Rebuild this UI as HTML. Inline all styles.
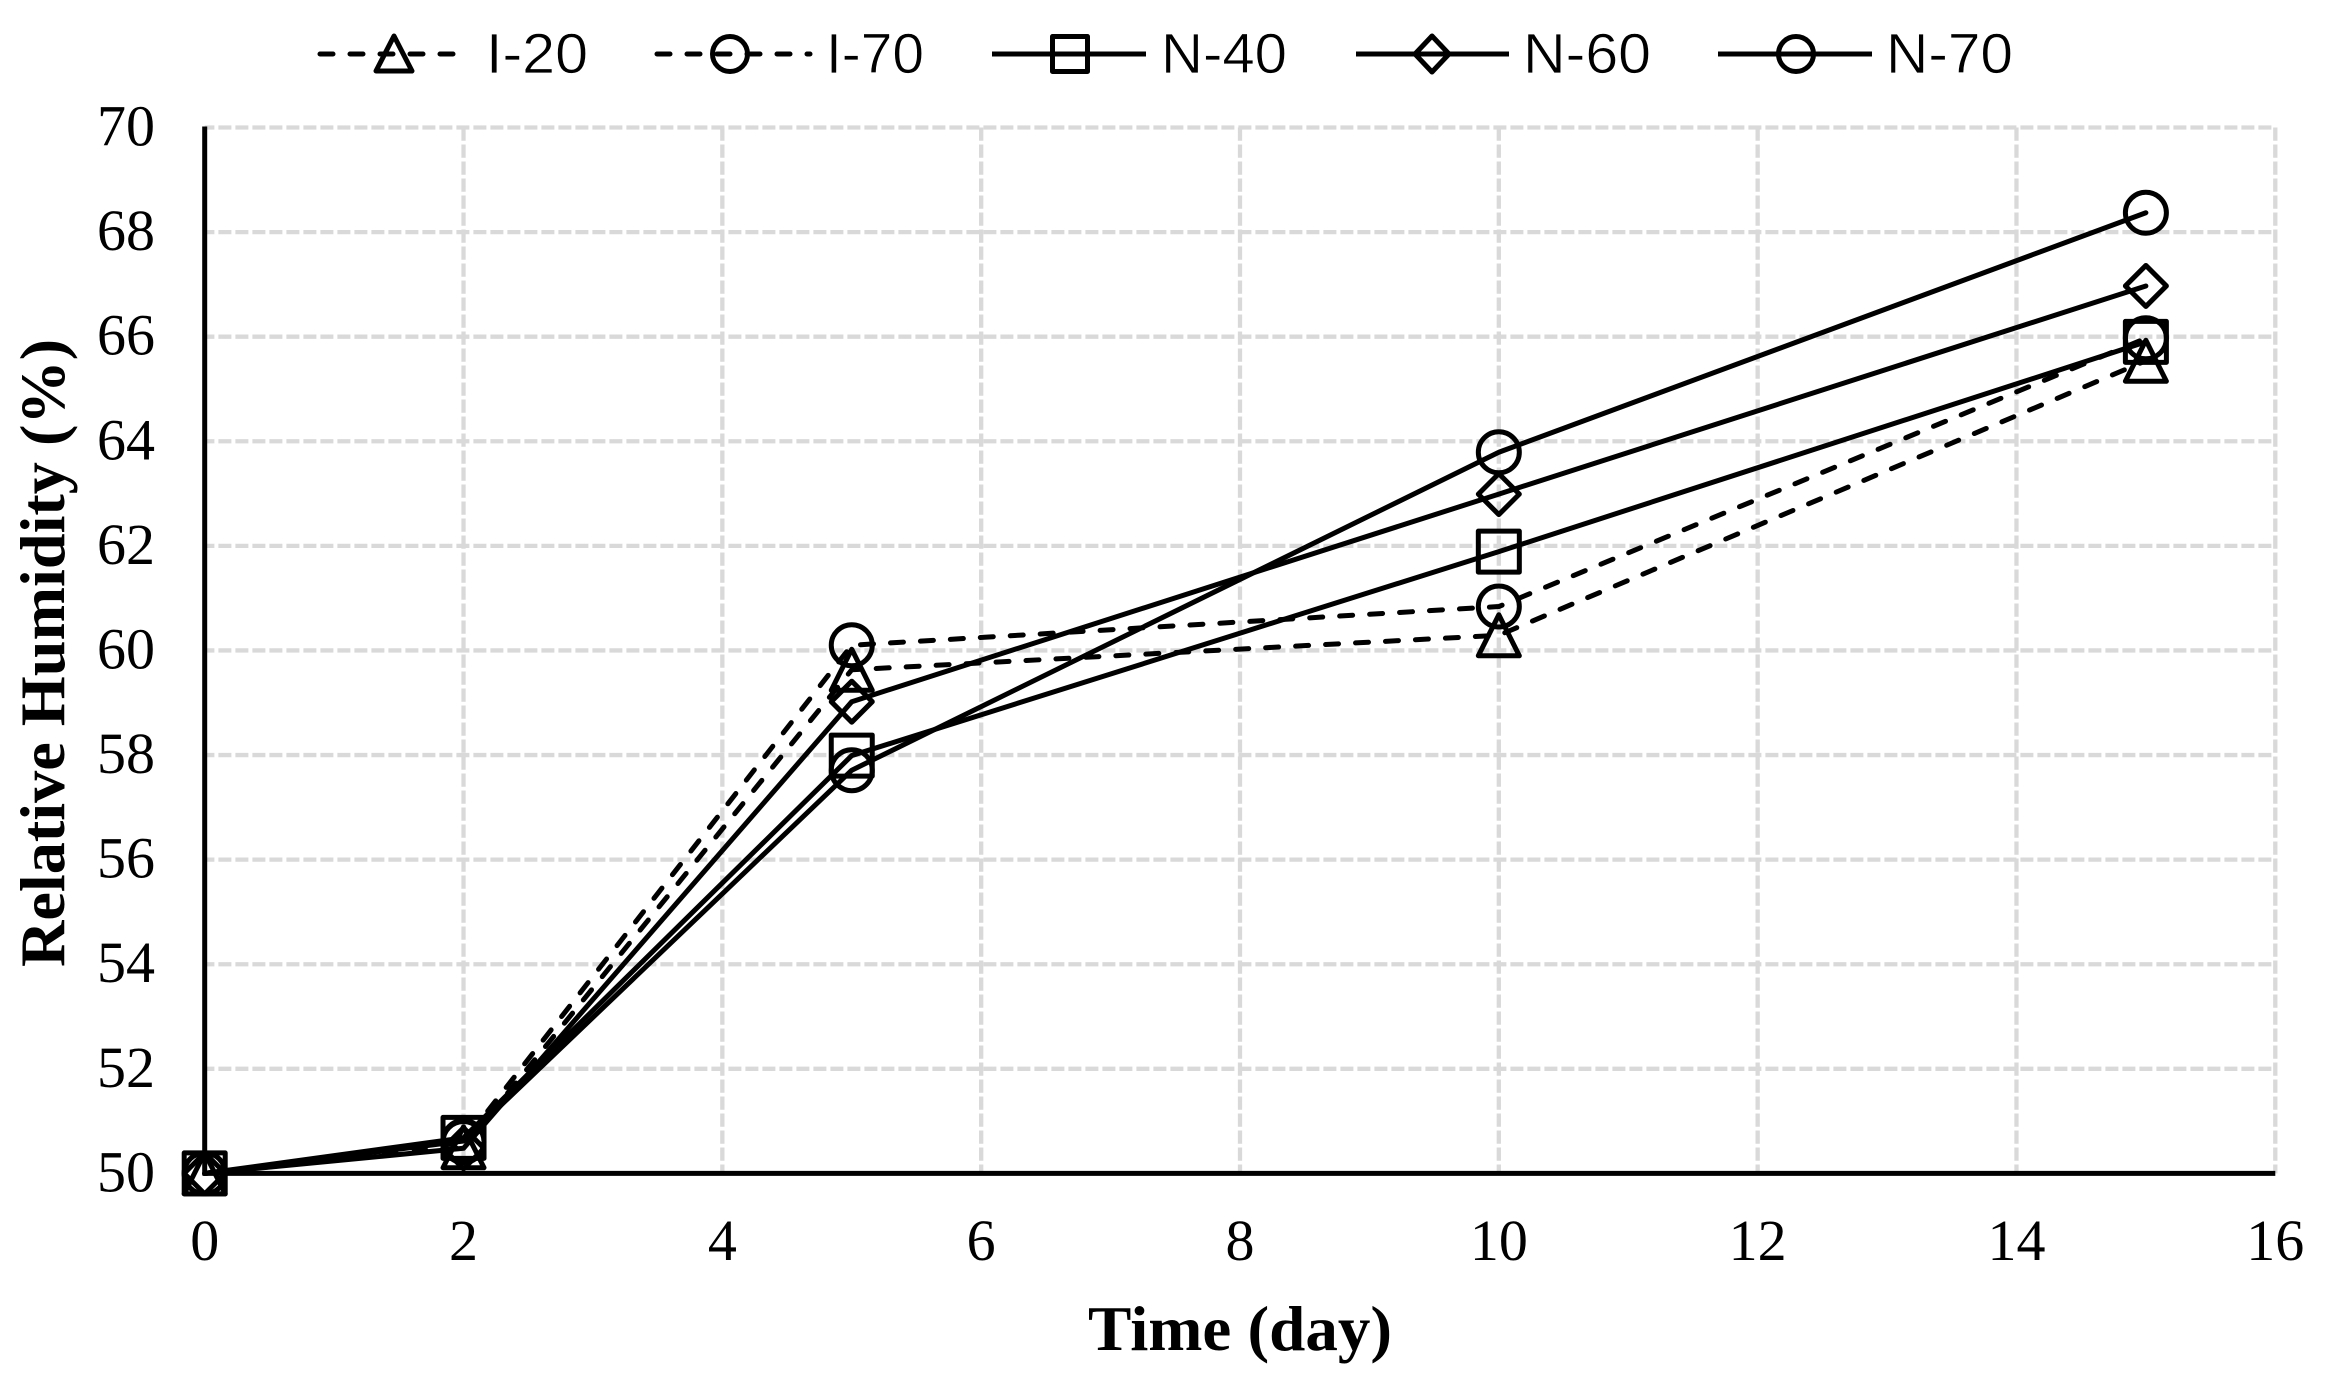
<!DOCTYPE html>
<html lang="en">
<head>
<meta charset="utf-8">
<title>Relative Humidity over Time</title>
<style>
html,body{margin:0;padding:0;background:#fff;}
svg{display:block;}
.tick{font-family:"Liberation Serif",serif;font-size:58px;fill:#000;}
.title{font-family:"Liberation Serif",serif;font-size:64px;font-weight:bold;fill:#000;}
.leg{font-family:"Liberation Sans",sans-serif;font-size:57px;fill:#000;stroke:#fff;stroke-width:0.7px;}
.lg{stroke:#000;stroke-width:5;fill:none;}
.dash{stroke-dasharray:13 17;stroke-linecap:round;}
.mk{stroke:#000;stroke-width:5;fill:none;stroke-linejoin:round;}
</style>
</head>
<body>
<svg id="chart" xmlns="http://www.w3.org/2000/svg" width="2329" height="1391" viewBox="0 0 2329 1391">
  <rect x="0" y="0" width="2329" height="1391" fill="#fff"/>
  <g id="grid"></g>
  <g id="axes"></g>
  <g id="series"></g>

  <g>
    <g>
      <line class="lg dash" x1="320" y1="54" x2="470" y2="54"/>
      <path class="mk" d="M394 36 L412 71 L376 71 Z"/>
      <text class="leg" x="486" y="73" textLength="102" lengthAdjust="spacingAndGlyphs">I-20</text>
    </g>
    <g>
      <line class="lg dash" x1="657" y1="54" x2="810" y2="54"/>
      <circle class="mk" cx="730" cy="54" r="17.5"/>
      <text class="leg" x="826" y="73" textLength="98" lengthAdjust="spacingAndGlyphs">I-70</text>
    </g>
    <g>
      <line class="lg" x1="992" y1="54" x2="1146" y2="54"/>
      <rect class="mk" x="1052.5" y="36.5" width="35" height="35"/>
      <text class="leg" x="1161" y="73" textLength="126" lengthAdjust="spacingAndGlyphs">N-40</text>
    </g>
    <g>
      <line class="lg" x1="1356" y1="54" x2="1509" y2="54"/>
      <path class="mk" d="M1432 36 L1449 54 L1432 72 L1415 54 Z"/>
      <text class="leg" x="1523" y="73" textLength="128" lengthAdjust="spacingAndGlyphs">N-60</text>
    </g>
    <g>
      <line class="lg" x1="1718" y1="54" x2="1872" y2="54"/>
      <circle class="mk" cx="1796" cy="54" r="17.5"/>
      <text class="leg" x="1886" y="73" textLength="127" lengthAdjust="spacingAndGlyphs">N-70</text>
    </g>
  </g>

  <text class="title" x="1240" y="1350" text-anchor="middle" textLength="304" lengthAdjust="spacingAndGlyphs">Time (day)</text>
  <text class="title" transform="translate(64 653) rotate(-90)" text-anchor="middle" textLength="628" lengthAdjust="spacingAndGlyphs">Relative Humidity (%)</text>
</svg>

<script>
var days = [0, 2, 5, 10, 15];
var i20Values = [50.0, 50.5, 59.63, 60.29, 65.54];
var i70Values = [50.0, 50.6, 60.10, 60.84, 65.97];
var n40Values = [50.0, 50.68, 57.99, 61.89, 65.90];
var n60Values = [50.0, 50.48, 59.02, 62.99, 66.97];
var n70Values = [50.0, 50.62, 57.71, 63.79, 68.37];
var xTickLabels = [0, 2, 4, 6, 8, 10, 12, 14, 16];
var yTickLabels = [50, 52, 54, 56, 58, 60, 62, 64, 66, 68, 70];

var NS = 'http://www.w3.org/2000/svg';
var plotLeft = 204.7, plotRight = 2275.3, plotTop = 127.5, plotBottom = 1173.4;
var xMin = 0, xMax = 16, yMin = 50, yMax = 70;

function xScale(v) { return plotLeft + (v - xMin) / (xMax - xMin) * (plotRight - plotLeft); }
function yScale(v) { return plotBottom - (v - yMin) / (yMax - yMin) * (plotBottom - plotTop); }

function make(tag, attrs, parent) {
  var el = document.createElementNS(NS, tag);
  for (var k in attrs) { el.setAttribute(k, attrs[k]); }
  parent.appendChild(el);
  return el;
}

var gridG = document.getElementById('grid');
var axesG = document.getElementById('axes');
var seriesG = document.getElementById('series');

yTickLabels.forEach(function (v) {
  if (v === yMin) { return; }
  var g = make('line', {x1: plotLeft, x2: plotRight, y1: yScale(v), y2: yScale(v), stroke: '#d9d9d9', 'stroke-width': 4.3, 'stroke-dasharray': '13 4', 'stroke-dashoffset': 3.3}, gridG);
  
  
});
xTickLabels.forEach(function (v) {
  if (v === xMin) { return; }
  var g = make('line', {x1: xScale(v), x2: xScale(v), y1: plotTop, y2: plotBottom, stroke: '#d9d9d9', 'stroke-width': 4.3, 'stroke-dasharray': '13.3 3.7'}, gridG);
  
  
});

var yAxis = make('line', {x1: plotLeft, x2: plotLeft, y1: plotTop - 1, y2: plotBottom + 2, stroke: '#000', 'stroke-width': 5}, axesG);


var xAxis = make('line', {x1: plotLeft - 2, x2: plotRight, y1: plotBottom, y2: plotBottom, stroke: '#000', 'stroke-width': 5}, axesG);



yTickLabels.forEach(function (v) {
  var t = make('text', {'class': 'tick', x: 155, y: yScale(v) + 18, 'text-anchor': 'end'}, axesG);
  
  
  t.textContent = String(v);
});
xTickLabels.forEach(function (v) {
  var t = make('text', {'class': 'tick', x: xScale(v), y: 1260, 'text-anchor': 'middle'}, axesG);
  
  
  t.textContent = String(v);
});

function drawMarker(shape, cx, cy, parent) {
  var r = 20.5, el;
  if (shape === 'circle') {
    el = make('circle', {cx: cx, cy: cy, r: r}, parent);
  } else if (shape === 'square') {
    el = make('rect', {x: cx - r, y: cy - r, width: 2 * r, height: 2 * r}, parent);
  } else if (shape === 'diamond') {
    el = make('path', {d: 'M' + cx + ' ' + (cy - r) + ' L' + (cx + r) + ' ' + cy + ' L' + cx + ' ' + (cy + r) + ' L' + (cx - r) + ' ' + cy + ' Z'}, parent);
  } else {
    el = make('path', {d: 'M' + cx + ' ' + (cy - r) + ' L' + (cx + r) + ' ' + (cy + r) + ' L' + (cx - r) + ' ' + (cy + r) + ' Z'}, parent);
  }
  el.setAttribute('class', 'mk');
  return el;
}

function drawSeries(name, values, dashed, shape) {
  var g = make('g', {}, seriesG);
  
  
  var pts = days.map(function (d, i) { return xScale(d) + ',' + yScale(values[i]); }).join(' ');
  var line = make('polyline', {points: pts, fill: 'none', stroke: '#000', 'stroke-width': 5, 'stroke-linejoin': 'round', 'stroke-linecap': 'round'}, g);
  if (dashed) { line.setAttribute('stroke-dasharray', '13 17'); }
  
  
  days.forEach(function (d, i) {
    var m = drawMarker(shape, xScale(d), yScale(values[i]), g);
    
    
  });
}

drawSeries('i-20', i20Values, true, 'triangle');
drawSeries('i-70', i70Values, true, 'circle');
drawSeries('n-40', n40Values, false, 'square');
drawSeries('n-60', n60Values, false, 'diamond');
drawSeries('n-70', n70Values, false, 'circle');
</script>
</body>
</html>
